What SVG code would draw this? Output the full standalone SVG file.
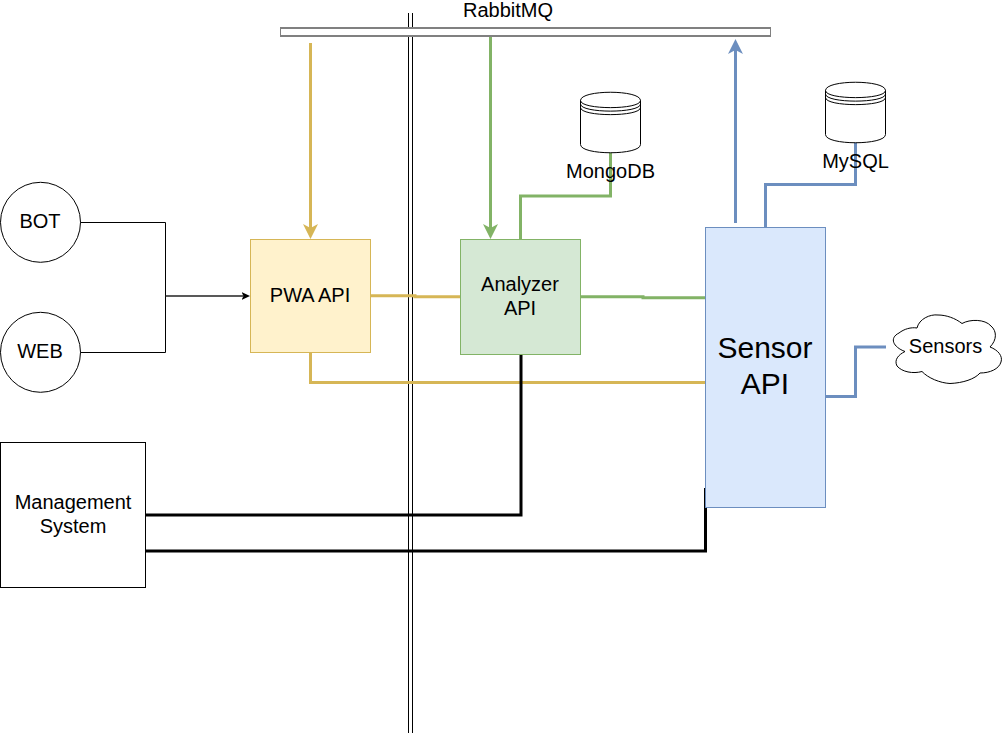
<svg xmlns="http://www.w3.org/2000/svg" width="1006" height="733" viewBox="0 0 1006 733">
<style>
text{font-family:"Liberation Sans",Arial,sans-serif;font-size:20px;fill:#000;text-anchor:middle}
text.big{font-size:30px}
.c{fill:none;stroke-width:3}
.y{stroke:#d6b656}.g{stroke:#82b366}.b{stroke:#6c8ebf}.k{stroke:#000}
.t{fill:none;stroke:#000;stroke-width:1}
.s{fill:#fff;stroke:#000;stroke-width:1}
</style>
<defs>
<marker id="ay" markerUnits="userSpaceOnUse" markerWidth="15" markerHeight="15" refX="4" refY="7.500" orient="auto"><path fill="#d6b656" d="M0 0L15 7.500L0 15L4 7.500Z"/></marker>
<marker id="ag" markerUnits="userSpaceOnUse" markerWidth="15" markerHeight="15" refX="4" refY="7.500" orient="auto"><path fill="#82b366" d="M0 0L15 7.500L0 15L4 7.500Z"/></marker>
<marker id="ab" markerUnits="userSpaceOnUse" markerWidth="15" markerHeight="15" refX="4" refY="7.500" orient="auto"><path fill="#6c8ebf" d="M0 0L15 7.500L0 15L4 7.500Z"/></marker>
<marker id="ak" markerUnits="userSpaceOnUse" markerWidth="9" markerHeight="9" refX="2" refY="4.500" orient="auto"><path fill="#000" d="M0 0.500L8.500 4.500L0 8.500L2 4.500Z"/></marker>
</defs>
<rect width="1006" height="733" fill="#fff"/>
<g id="divider"><path class="t" d="M408.500 13V733M412.500 13V733"/></g>
<g id="connectors">
<path class="t" d="M80 222.500H165.500V352.500H80"/>
<path fill="none" stroke="#222" stroke-width="1.500" d="M165.500 296H243.500" marker-end="url(#ak)"/>
<path class="c y" d="M310.500 43V228" marker-end="url(#ay)"/>
<path class="c g" d="M490.500 37V228" marker-end="url(#ag)"/>
<path class="c b" d="M735.500 223V50" marker-end="url(#ab)"/>
<path class="c y" d="M371 295.700H415V296.700H460"/>
<path class="c y" d="M310.500 353V382.500H705"/>
<path class="c g" d="M581 296.700H643V297.700H705"/>
<path class="c g" d="M520.500 239V196H610.500V152"/>
<path class="c b" d="M765.500 227V184.500H855.500V142"/>
<path class="c b" d="M826 396.500H855.500V347H886"/>
<path class="c k" d="M146 515H521V354"/>
<path class="c k" d="M146 551H705.500V488"/>
</g>
<g id="rabbitmq"><rect x="280.500" y="28" width="490" height="8" fill="#fff" stroke="#808080" stroke-width="1"/><path fill="none" stroke="#808080" stroke-width="2.200" d="M280 28H771M280 36H771"/><text x="508" y="17">RabbitMQ</text></g>
<g id="bot"><circle cx="40.500" cy="222.300" r="40" class="s"/><text x="40" y="228">BOT</text></g>
<g id="web"><circle cx="40.500" cy="352.300" r="40" class="s"/><text x="40" y="358">WEB</text></g>
<g id="pwa"><rect x="250.500" y="239.500" width="120" height="113" fill="#fff2cc" stroke="#d6b656"/><text x="310" y="302">PWA API</text></g>
<g id="analyzer"><rect x="460.500" y="239.500" width="120" height="115" fill="#d5e8d4" stroke="#82b366"/><text x="520" y="291">Analyzer</text><text x="520" y="315">API</text></g>
<g id="sensor"><rect x="705.500" y="227.500" width="120" height="280" fill="#dae8fc" stroke="#6c8ebf"/><text class="big" x="765" y="358">Sensor</text><text class="big" x="765" y="394">API</text></g>
<g id="management"><rect x="0.500" y="442.500" width="145" height="145" class="s"/><text x="73" y="509">Management</text><text x="73" y="533">System</text></g>
<g id="mongodb"><path class="s" d="M580.500 100.500C580.500 89.500 640.500 89.500 640.500 100.500V144.500C640.500 155.500 580.500 155.500 580.500 144.500Z"/><path class="t" d="M580.500 100.500C580.500 110 640.500 110 640.500 100.500M580.500 104C580.500 113.500 640.500 113.500 640.500 104M580.500 107.500C580.500 117 640.500 117 640.500 107.500"/><text x="610.500" y="178">MongoDB</text></g>
<g id="mysql"><path class="s" d="M825.500 90.500C825.500 79.500 885.500 79.500 885.500 90.500V134.500C885.500 145.500 825.500 145.500 825.500 134.500Z"/><path class="t" d="M825.500 90.500C825.500 100 885.500 100 885.500 90.500M825.500 94C825.500 103.500 885.500 103.500 885.500 94M825.500 97.500C825.500 107 885.500 107 885.500 97.500"/><text x="855.500" y="168">MySQL</text></g>
<g id="sensors"><path class="s" d="M905 351.500C893 347 889 338 899 333C904 329 911 327 917 328C919 319 930 314 938 315C946 315 955 318 962 323.500C970 319 985 319 991 326C997 331 997 340 990 347C998 350 1003 356 1001 362C999 369 990 373 980 373C975 379 963 383 950 383.500C940 383 928 378 922 371.500C913 374 902 372 897 366C894 360 898 355 905 351.500Z"/><text x="945.500" y="353">Sensors</text></g>
</svg>
